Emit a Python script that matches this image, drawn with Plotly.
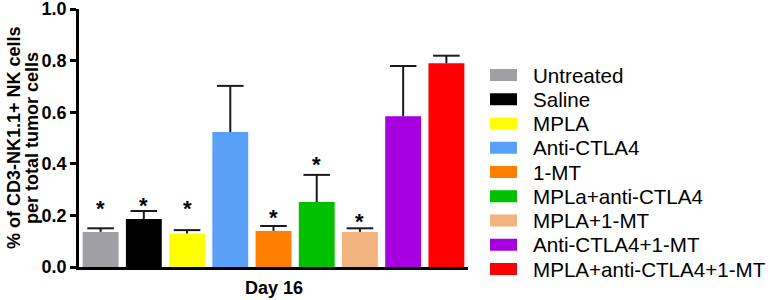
import plotly.graph_objects as go

categories = ["Untreated", "Saline", "MPLA", "Anti-CTLA4", "1-MT",
              "MPLa+anti-CTLA4", "MPLA+1-MT", "Anti-CTLA4+1-MT",
              "MPLA+anti-CTLA4+1-MT"]
means = [0.136, 0.186, 0.130, 0.523, 0.140, 0.252, 0.136, 0.584, 0.790]
err_upper = [0.014, 0.031, 0.013, 0.179, 0.019, 0.105, 0.014, 0.195, 0.029]
star_y = [0.248, 0.256, 0.248, None, 0.213, 0.415, 0.194, None, None]
colors = ["#a0a0a4", "#000000", "#ffff00", "#58a0f8", "#ff8000",
          "#00c000", "#f2b47e", "#a600e0", "#ff0000"]
y_ticks = [0.0, 0.2, 0.4, 0.6, 0.8, 1.0]
x_label = "Day 16"
y_title = ["% of CD3-NK1.1+ NK cells", "per total tumor cells"]

FONT = "Liberation Sans, Arial, sans-serif"

fig = go.Figure()
fig.add_trace(go.Bar(
    x=categories, y=means,
    marker=dict(color=colors, line=dict(width=0)),
    error_y=dict(type="data", symmetric=False, array=err_upper,
                 arrayminus=[0] * len(means), color="#1a1a1a",
                 thickness=2, width=0),
    showlegend=False,
))
# error-bar caps
fig.add_trace(go.Scatter(
    x=categories, y=[m + e for m, e in zip(means, err_upper)],
    mode="markers",
    marker=dict(symbol="line-ew", size=19, color="#1a1a1a",
                line=dict(width=2, color="#1a1a1a")),
    showlegend=False, hoverinfo="skip",
))

annotations = []
for c, s in zip(categories, star_y):
    if s is not None:
        annotations.append(dict(x=c, y=s, xref="x", yref="y", text="<b>*</b>",
                                showarrow=False, yanchor="middle", yshift=-5,
                                font=dict(family=FONT, size=22, color="black")))

# y-axis title (two tight lines)
for i, line in enumerate(y_title):
    annotations.append(dict(x=0, y=0.5, xref="paper", yref="paper",
                            xshift=[-65, -47][i], text="<b>" + line + "</b>",
                            textangle=-90, showarrow=False,
                            xanchor="center", yanchor="middle",
                            font=dict(family=FONT, size=18, color="black")))

annotations.append(dict(x=0.5, y=0, xref="paper", yref="paper",
                        text="<b>" + x_label + "</b>", showarrow=False,
                        yanchor="middle", yshift=-21,
                        font=dict(family=FONT, size=18, color="black")))

# custom legend
shapes = []
plot_h = 258.0
plot_w = 389.0
for i, (name, col) in enumerate(zip(categories, colors)):
    py = 75 + 24.25 * i  # pixel row center
    yc = (267 - py) / plot_h
    shapes.append(dict(type="rect", xref="paper", yref="paper",
                       x0=1 + 22 / plot_w, x1=1 + 49 / plot_w,
                       y0=yc - 6 / plot_h, y1=yc + 6 / plot_h,
                       fillcolor=col, line=dict(width=0)))
    annotations.append(dict(x=1 + 63 / plot_w, y=yc, xref="paper", yref="paper",
                            text=name, showarrow=False, xanchor="left",
                            yanchor="middle",
                            font=dict(family=FONT, size=20.6, color="black")))

fig.update_layout(
    width=771, height=300,
    margin=dict(l=79, r=303, t=9, b=33, pad=0, autoexpand=False),
    paper_bgcolor="white", plot_bgcolor="white",
    bargap=0.17,
    font=dict(family=FONT, color="black"),
    xaxis=dict(showticklabels=False, ticks="", showline=True, automargin=False,
               linecolor="black", linewidth=2.5, showgrid=False,
               zeroline=False, range=[-0.5, 8.5]),
    yaxis=dict(range=[0, 1], tickvals=y_ticks, automargin=False,
               ticktext=["<b>%.1f</b>" % v for v in y_ticks],
               ticks="outside", ticklen=6, tickwidth=2.5, tickcolor="black",
               showline=True, linecolor="black", linewidth=2.5,
               showgrid=False, zeroline=False, ticklabeloverflow="allow",
               tickfont=dict(family=FONT, size=18, color="black")),
    annotations=annotations,
    shapes=shapes,
)

fig.write_html("out.html", config={"displayModeBar": False},
               post_script="document.body.style.margin='0';document.body.style.overflow='hidden';")
